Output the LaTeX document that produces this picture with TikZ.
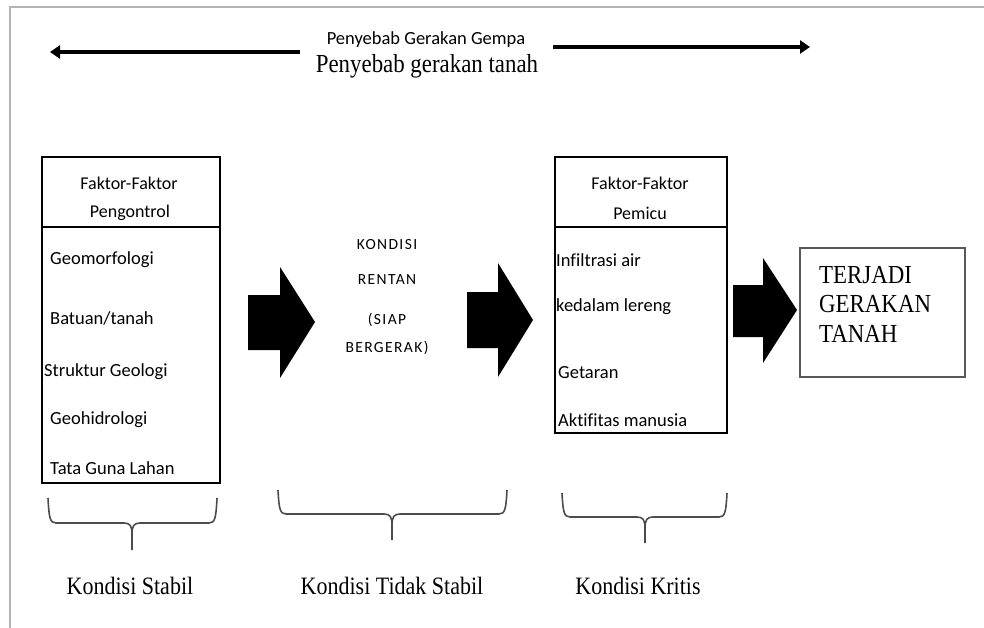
\documentclass[tikz,border=0pt]{standalone}
\usepackage{fontspec}
\usetikzlibrary{arrows.meta}
\setmainfont{Liberation Serif}
\newfontfamily\serifc{Liberation Serif}[FakeStretch=0.88]
\newfontfamily\sansf{Carlito}[Ligatures=NoCommon]
\newfontfamily\sansspaced{Carlito}[LetterSpace=9]
\begin{document}
\begin{tikzpicture}[x=1pt,y=-1pt,
  item/.style={anchor=west,inner sep=0pt,font=\sansf\fontsize{18.5}{20}\selectfont},
  head/.style={anchor=center,inner sep=0pt,font=\sansf\fontsize{18}{20}\selectfont},
  mid/.style={anchor=center,inner sep=0pt,font=\sansspaced\fontsize{15.5}{18}\selectfont},
  cond/.style={anchor=base,inner sep=0pt,font=\serifc\fontsize{25}{28}\selectfont},
  boxline/.style={draw=black,line width=1.5pt},
  bigarrow/.style={fill=black},
  brace/.style={draw=black!70,line width=1.6pt,line join=round},
  toparrow/.style={line width=4pt,-{Triangle[length=10pt,width=13pt]}}]
\useasboundingbox (0,0) rectangle (984,628);
% frame
\draw[gray!60,line width=2pt] (10,628) -- (10,7) -- (984,7);
% title
\node[inner sep=0pt,font=\sansf\fontsize{18.5}{20}\selectfont] (t1) at (426,40) {Penyebab Gerakan Gempa};
\node[inner sep=0pt,anchor=base,font=\serifc\fontsize{26}{28}\selectfont] (t2) at (427,73) {Penyebab gerakan tanah};
\coordinate (la0) at (300,52);
\coordinate (la1) at (50,52);
\coordinate (ra0) at (553,47);
\coordinate (ra1) at (810,47);
\draw[toparrow] (la0) -- (la1);
\draw[toparrow] (ra0) -- (ra1);
% left box
\draw[boxline] (42,157) rectangle (220,483);
\draw[boxline] (42,227) -- (220,227);
\node[head] (h1) at (129,183) {Faktor-Faktor};
\node[head] (h2) at (130,213) {Pengontrol};
\node[item] (i1) at (50,260) {Geomorfologi};
\node[item] (i2) at (50,318) {Batuan/tanah};
\node[item] (i3) at (44,372) {Struktur Geologi};
\node[item] (i4) at (50,420) {Geohidrologi};
\node[item] (i5) at (50,468) {Tata Guna Lahan};
% arrow 1
\fill[bigarrow] (248,295) -- (280,295) -- (280,267) -- (315,322) -- (280,378) -- (280,350) -- (248,350) -- cycle;
% middle text
\node[mid] (m1) at (387,245) {KONDISI};
\node[mid] (m2) at (387,280) {RENTAN};
\node[mid] (m3) at (387,320) {(SIAP};
\node[mid] (m4) at (387,348) {BERGERAK)};
% arrow 2
\fill[bigarrow] (467,292) -- (498,292) -- (498,263) -- (533,320) -- (498,377) -- (498,348) -- (467,348) -- cycle;
% right box
\draw[boxline] (555,157) rectangle (727,433);
\draw[boxline] (555,227) -- (727,227);
\node[head] (p1) at (640,183) {Faktor-Faktor};
\node[head] (p2) at (640,213) {Pemicu};
\node[item] (j1) at (556,260) {Infiltrasi air};
\node[item] (j2) at (556,307) {kedalam lereng};
\node[item] (j3) at (558,373) {Getaran};
\node[item] (j4) at (558,420) {Aktifitas manusia};
% arrow 3
\fill[bigarrow] (733,285) -- (763,285) -- (763,258) -- (797,310) -- (763,363) -- (763,337) -- (733,337) -- cycle;
% final box
\draw[draw=black!65,line width=1.5pt] (800,248) rectangle (965,377);
\node[anchor=base west,inner sep=0pt,font=\serifc\fontsize{26}{28}\selectfont] (f1) at (819,283) {TERJADI};
\node[anchor=base west,inner sep=0pt,font=\serifc\fontsize{26}{28}\selectfont] (f2) at (819,312) {GERAKAN};
\node[anchor=base west,inner sep=0pt,font=\serifc\fontsize{26}{28}\selectfont] (f3) at (819,342) {TANAH};
% braces
\draw[brace] (48,498) .. controls (49,518) and (50,523) .. (56,523) -- (124,523) .. controls (130,523) and (132,526) .. (132,534) -- (132,550);
\draw[brace] (217,498) .. controls (216,518) and (215,523) .. (209,523) -- (140,523) .. controls (134,523) and (132,526) .. (132,534);
\draw[brace] (278,490) .. controls (279,509) and (280,514) .. (286,514) -- (384,514) .. controls (390,514) and (392,517) .. (392,525) -- (392,540);
\draw[brace] (507,490) .. controls (506,509) and (505,514) .. (499,514) -- (400,514) .. controls (394,514) and (392,517) .. (392,525);
\draw[brace] (562,493) .. controls (563,512) and (564,517) .. (570,517) -- (637,517) .. controls (643,517) and (645,520) .. (645,528) -- (645,543);
\draw[brace] (727,493) .. controls (726,512) and (725,517) .. (719,517) -- (653,517) .. controls (647,517) and (645,520) .. (645,528);
\node[cond] (c1) at (130,594) {Kondisi Stabil};
\node[cond] (c2) at (392,594) {Kondisi Tidak Stabil};
\node[cond] (c3) at (638,594) {Kondisi Kritis};
\end{tikzpicture}
\end{document}
